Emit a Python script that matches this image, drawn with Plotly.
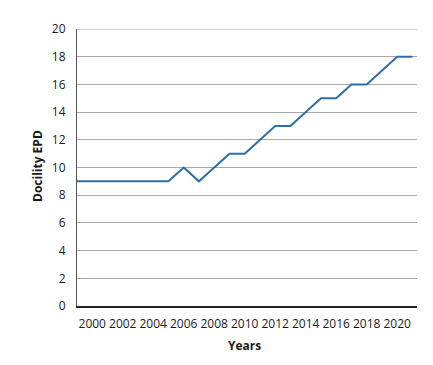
import plotly.graph_objects as go

years = list(range(1999, 2022))
docility_epd = [9, 9, 9, 9, 9, 9, 9, 10, 9, 10, 11, 11, 12, 13, 13, 14, 15, 15, 16, 16, 17, 18, 18]
x_ticks = list(range(2000, 2021, 2))
y_ticks = list(range(0, 21, 2))

# page body has an 8px default margin; figure sized to fit the 433x365 window
OFF = 8
W, H = 433 - OFF, 365 - OFF
L, R, T, B = 77 - OFF, 16, 29 - OFF, 365 - 306
PW, PH = W - L - R, H - T - B

fig = go.Figure()
fig.add_trace(go.Scatter(
    x=years, y=docility_epd, mode="lines",
    line=dict(color="#2f6ea5", width=2),
    showlegend=False,
))

font_family = "Open Sans, Noto Sans, sans-serif"
fig.update_layout(
    width=W, height=H,
    margin=dict(l=L, r=R, t=T, b=B, autoexpand=False),
    paper_bgcolor="white", plot_bgcolor="white",
    font=dict(family=font_family, size=12, color="#1a1a1a"),
    xaxis=dict(
        range=[1999, 2021.3], tickvals=x_ticks, ticktext=[str(t) for t in x_ticks],
        showgrid=False, zeroline=False, showline=True, linecolor="#222222", linewidth=1.5,
        ticks="", ticklen=0, tickfont=dict(size=12), ticklabelstandoff=6,
        automargin=False,
    ),
    yaxis=dict(
        range=[0, 20], tickvals=y_ticks, showgrid=True, gridcolor="#a8a8a8", gridwidth=1,
        zeroline=False, showline=True, linecolor="#555555", linewidth=1,
        ticks="", tickfont=dict(size=12), ticklabelstandoff=8,
        automargin=False,
    ),
)
fig.add_shape(type="line", xref="paper", yref="y", x0=0, x1=1, y0=20, y1=20,
              line=dict(color="#a8a8a8", width=1))
fig.add_annotation(text="<b>Years</b>", xref="paper", yref="paper",
                   x=(244 - 77) / PW, y=-(345 - 306) / PH,
                   showarrow=False, font=dict(size=12), xanchor="center", yanchor="middle")
fig.add_annotation(text="<b>Docility EPD</b>", xref="paper", yref="paper",
                   x=-(77 - 37) / PW, y=(306 - 166) / PH,
                   textangle=-90, showarrow=False, font=dict(size=12),
                   xanchor="center", yanchor="middle")
fig.write_html("out.html")
